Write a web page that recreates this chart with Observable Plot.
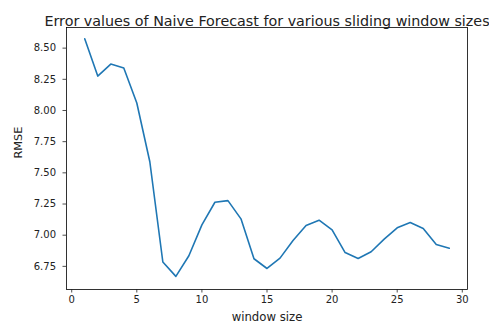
<!DOCTYPE html>
<html>
<head>
<meta charset="utf-8">
<script src="https://cdn.jsdelivr.net/npm/d3@7"></script>
<script src="https://cdn.jsdelivr.net/npm/@observablehq/plot@0.6"></script>
<style>
  html, body { margin: 0; padding: 0; background: #fff; overflow: hidden; }
</style>
</head>
<body>
<div id="chart"></div>
<script>
const windowSizes = [1,2,3,4,5,6,7,8,9,10,11,12,13,14,15,16,17,18,19,20,21,22,23,24,25,26,27,28,29];
const rmse = [8.575,8.276,8.372,8.340,8.060,7.589,6.785,6.670,6.835,7.083,7.264,7.277,7.131,6.811,6.733,6.816,6.957,7.077,7.120,7.043,6.861,6.813,6.867,6.968,7.059,7.101,7.053,6.925,6.896];
const xTicks = [0,5,10,15,20,25,30];
const yTicks = [6.75,7.00,7.25,7.50,7.75,8.00,8.25,8.50];
const title = "Error values of Naive Forecast for various sliding window sizes";
const xLabel = "window size";
const yLabel = "RMSE";

const data = windowSizes.map((w, i) => ({w, v: rmse[i]}));

const chart = Plot.plot({
  width: 489,
  height: 326,
  marginLeft: 66,
  marginRight: 22,
  marginTop: 27,
  marginBottom: 37,
  style: {fontFamily: "'DejaVu Sans', sans-serif", fontSize: "10px", background: "#fff", color: "#222"},
  x: {domain: [-0.4, 30.4]},
  y: {domain: [6.5645, 8.6655]},
  marks: [
    Plot.line(data, {x: "w", y: "v", stroke: "#1f77b4", strokeWidth: 1.6}),
    Plot.frame({stroke: "#000", strokeWidth: 0.8}),
    Plot.axisX({ticks: xTicks, tickFormat: d3.format("d"), tickSize: 3.5, tickPadding: 3, label: null, fontSize: 10, strokeWidth: 0.8}),
    Plot.axisY({ticks: yTicks, tickFormat: d3.format(".2f"), tickSize: 3.5, tickPadding: 7, label: null, fontSize: 10, strokeWidth: 0.8}),
    Plot.text([xLabel], {frameAnchor: "bottom", dy: 31, fontSize: 11.7, fill: "#222"}),
    Plot.text([yLabel], {frameAnchor: "left", dx: -48, rotate: -90, fontSize: 11.3, fill: "#222"}),
    Plot.text([title], {frameAnchor: "top", dy: -12, fontSize: 14.3, fill: "#222"})
  ]
});
document.getElementById("chart").appendChild(chart);
</script>
</body>
</html>
